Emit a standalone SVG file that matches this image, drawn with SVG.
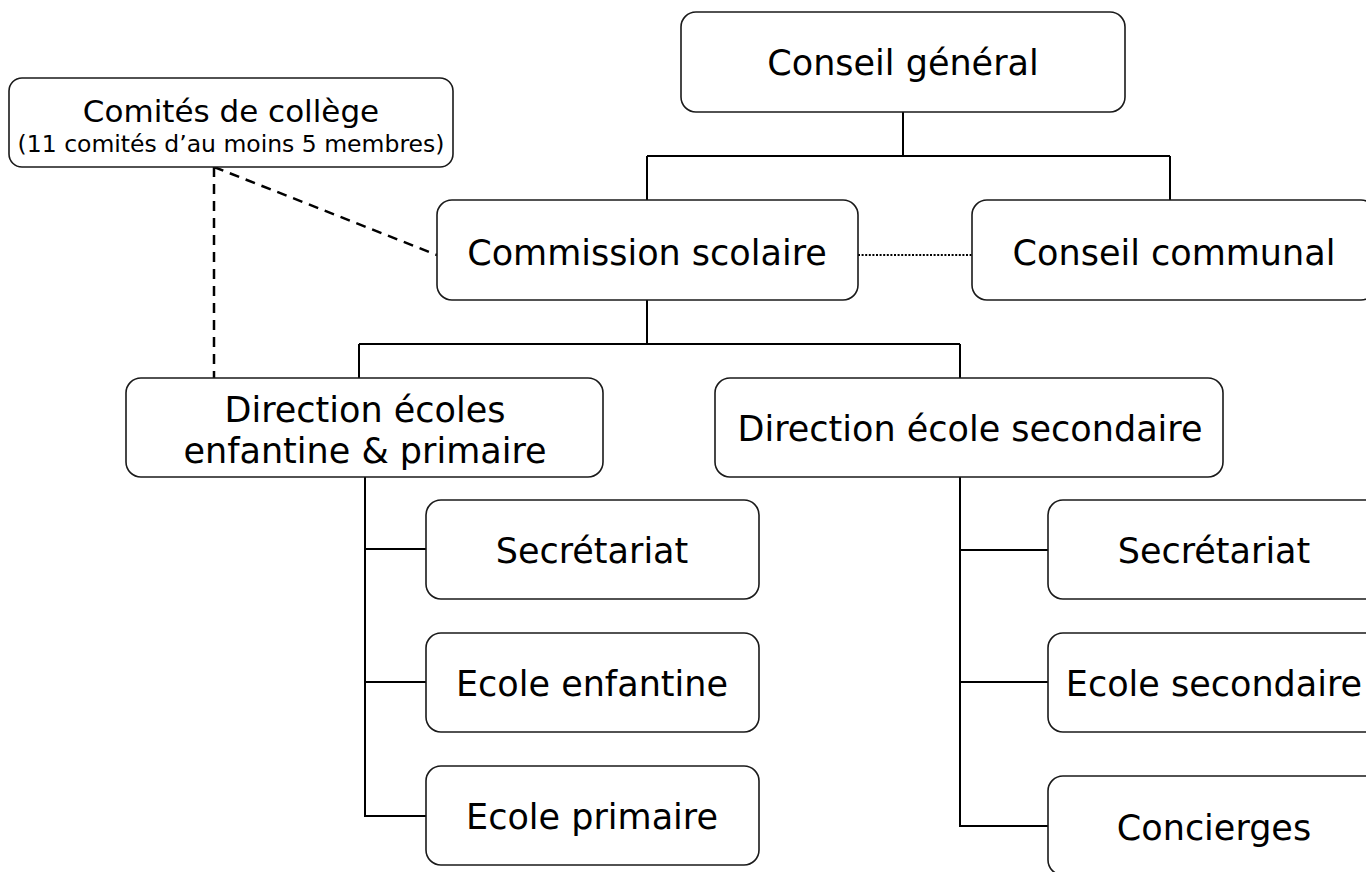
<svg xmlns="http://www.w3.org/2000/svg" width="1366" height="872" viewBox="0 0 1366 872">
  <style>
    .box { fill: #ffffff; stroke: #1a1a1a; stroke-width: 1.6; }
    .lbl { font-family: "DejaVu Sans", Verdana, sans-serif; font-size: 35px; fill: #000; text-anchor: middle; }
    .ttl { font-family: "DejaVu Sans", Verdana, sans-serif; font-size: 31px; fill: #000; text-anchor: middle; }
    .sub { font-family: "DejaVu Sans", Verdana, sans-serif; font-size: 23.5px; fill: #000; text-anchor: middle; }
    .tree { fill: none; stroke: #000; stroke-width: 2; }
    .dash { fill: none; stroke: #000; stroke-width: 2.5; stroke-dasharray: 10 7; }
    .dot { fill: none; stroke: #000; stroke-width: 2; stroke-dasharray: 2 1.6; }
  </style>
  <rect width="1366" height="872" fill="#ffffff"/>

  <!-- connectors: solid hierarchy, dotted liaison, dashed advisory links -->
  <g id="connectors">
    <path class="tree" d="M903,112 V156 M647,156 H1170 M647,156 V200 M1170,156 V200"/>
    <path class="tree" d="M647,300 V344 M359,344 H960 M359,344 V378 M960,344 V378"/>
    <path class="tree" d="M365,477 V816 H426 M365,549 H426 M365,682 H426"/>
    <path class="tree" d="M960,477 V826 H1048 M960,550 H1048 M960,682 H1048"/>
    <path class="dot" d="M858,255 H972"/>
    <path class="dash" d="M214,167 V378 M214,167 L437,255"/>
  </g>

  <g id="conseil-general">
    <rect class="box" x="681" y="12" width="444" height="100" rx="15"/>
    <text class="lbl" x="903" y="75">Conseil général</text>
  </g>

  <g id="comites-college">
    <rect class="box" x="9" y="78" width="444" height="89" rx="13"/>
    <text class="ttl" x="231" y="122">Comités de collège</text>
    <text class="sub" x="231" y="152">(11 comités d’au moins 5 membres)</text>
  </g>

  <g id="commission-scolaire">
    <rect class="box" x="437" y="200" width="421" height="100" rx="15"/>
    <text class="lbl" x="647" y="265">Commission scolaire</text>
  </g>

  <g id="conseil-communal">
    <rect class="box" x="972" y="200" width="404" height="100" rx="15"/>
    <text class="lbl" x="1174" y="265">Conseil communal</text>
  </g>

  <g id="direction-primaire">
    <rect class="box" x="126" y="378" width="477" height="99" rx="15"/>
    <text class="lbl" x="365" y="422">Direction écoles</text>
    <text class="lbl" x="365" y="463">enfantine &amp; primaire</text>
  </g>

  <g id="direction-secondaire">
    <rect class="box" x="715" y="378" width="508" height="99" rx="15"/>
    <text class="lbl" x="970" y="441">Direction école secondaire</text>
  </g>

  <g id="secretariat-primaire">
    <rect class="box" x="426" y="500" width="333" height="99" rx="15"/>
    <text class="lbl" x="592" y="563">Secrétariat</text>
  </g>

  <g id="ecole-enfantine">
    <rect class="box" x="426" y="633" width="333" height="99" rx="15"/>
    <text class="lbl" x="592" y="696">Ecole enfantine</text>
  </g>

  <g id="ecole-primaire">
    <rect class="box" x="426" y="766" width="333" height="99" rx="15"/>
    <text class="lbl" x="592" y="829">Ecole primaire</text>
  </g>

  <g id="secretariat-secondaire">
    <rect class="box" x="1048" y="500" width="333" height="99" rx="15"/>
    <text class="lbl" x="1214" y="563">Secrétariat</text>
  </g>

  <g id="ecole-secondaire">
    <rect class="box" x="1048" y="633" width="333" height="99" rx="15"/>
    <text class="lbl" x="1214" y="696">Ecole secondaire</text>
  </g>

  <g id="concierges">
    <rect class="box" x="1048" y="776" width="333" height="99" rx="15"/>
    <text class="lbl" x="1214" y="840">Concierges</text>
  </g>
</svg>
